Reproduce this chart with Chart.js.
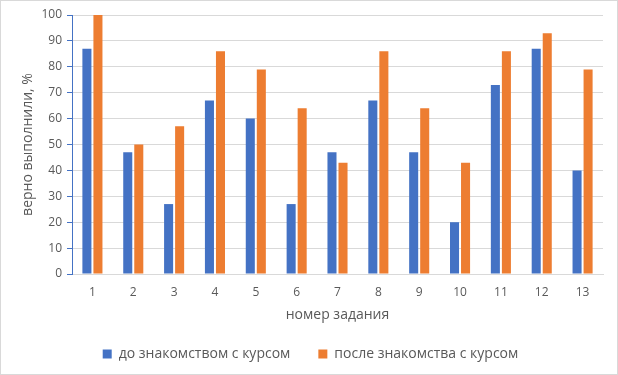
<!DOCTYPE html>
<html>
<head>
<meta charset="utf-8">
<script src="https://cdn.jsdelivr.net/npm/chart.js@4"></script>
<style>
html,body{margin:0;padding:0;background:#fff;}
#wrap{width:618px;height:375px;position:relative;}
</style>
</head>
<body>
<div id="wrap"><canvas id="c" width="618" height="375"></canvas></div>
<script>
const categories = ['1','2','3','4','5','6','7','8','9','10','11','12','13'];
const beforeCourse = [87, 47, 27, 67, 60, 27, 47, 67, 47, 20, 73, 87, 40];
const afterCourse = [100, 50, 57, 86, 79, 64, 43, 86, 64, 43, 86, 93, 79];
const seriesNames = ['до знакомством с курсом', 'после знакомства с курсом'];
const yTicks = [0,10,20,30,40,50,60,70,80,90,100];

const FONT = '"Open Sans", "Noto Sans", sans-serif';
const TXT = '#595959';

const borderPlugin = {
  id: 'outerBorder',
  beforeDraw(chart) {
    const ctx = chart.ctx;
    ctx.save();
    ctx.fillStyle = '#fff';
    ctx.fillRect(0, 0, chart.width, chart.height);
    ctx.strokeStyle = '#d9d9d9';
    ctx.lineWidth = 1;
    ctx.strokeRect(0.5, 0.5, chart.width - 1, chart.height - 1);
    ctx.restore();
  }
};

const legendShift = {
  id: 'legendShift',
  afterLayout(chart) {
    if (chart.legend) { chart.legend.left += 6; chart.legend.right += 6; }
  }
};

new Chart(document.getElementById('c'), {
  type: 'bar',
  data: {
    labels: categories,
    datasets: [
      { label: seriesNames[0], data: beforeCourse, backgroundColor: '#4472C4',
        categoryPercentage: 0.54, barPercentage: 0.82 },
      { label: seriesNames[1], data: afterCourse, backgroundColor: '#ED7D31',
        categoryPercentage: 0.54, barPercentage: 0.82 }
    ]
  },
  options: {
    responsive: false,
    animation: false,
    devicePixelRatio: 1,
    layout: { padding: { left: 6, right: 15, top: 15, bottom: 4 } },
    plugins: {
      legend: {
        position: 'bottom',
        labels: {
          font: { family: FONT, size: 14 },
          color: TXT,
          boxWidth: 9, boxHeight: 9,
          padding: 28
        }
      },
      tooltip: { enabled: false }
    },
    scales: {
      x: {
        grid: { display: false, drawTicks: false },
        border: { display: true, color: '#d9d9d9' },
        ticks: { font: { family: FONT, size: 12 }, color: TXT, padding: 11 },
        title: { display: true, text: 'номер задания',
                 font: { family: FONT, size: 14 }, color: TXT, padding: { top: 0, bottom: -4 } },
        afterFit(scale) { scale.height = 45; }
      },
      y: {
        min: 0, max: 100,
        afterBuildTicks(scale) { scale.ticks = yTicks.map(v => ({ value: v })); },
        grid: { color: '#d9d9d9', tickColor: '#4472C4', tickLength: 5 },
        border: { display: true, color: '#4472C4' },
        ticks: { font: { family: FONT, size: 12 }, color: TXT, padding: 5 },
        title: { display: true, text: 'верно выполнили, %',
                 font: { family: FONT, size: 14 }, color: TXT, padding: { top: 14, bottom: 0 } },
        afterFit(scale) { scale.width = 66; }
      }
    }
  },
  plugins: [borderPlugin, legendShift]
});
</script>
</body>
</html>
